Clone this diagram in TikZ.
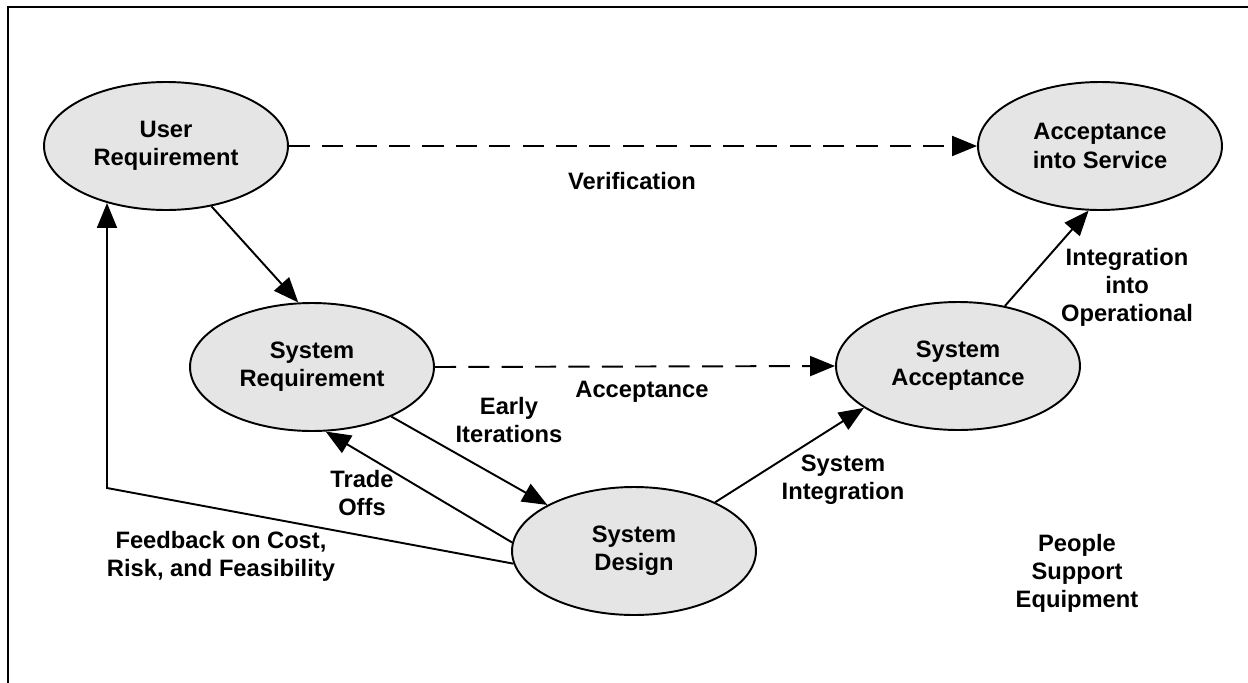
\documentclass[tikz,border=0pt]{standalone}
\usepackage{fontspec}
\setmainfont{Liberation Sans}
\usetikzlibrary{shapes.geometric, arrows.meta, positioning, calc}

\begin{document}
\begin{tikzpicture}[x=0.02cm, y=-0.02cm,
  stage/.style={draw, ellipse, line width=1.1pt, fill=black!10, minimum width=4.88cm, minimum height=2.56cm, inner sep=0pt, align=center, font=\fontsize{13.5}{16}\selectfont\bfseries},
  flow/.style={line width=1.1pt, -{Triangle[length=0.5cm, width=0.4cm]}},
  vflow/.style={flow, dash pattern=on 12pt off 7pt},
  lbl/.style={align=center, font=\fontsize{13.5}{16}\selectfont\bfseries}]
\useasboundingbox (0,0) rectangle (1248,683);
% Frame (top and left edges only)
\draw[line width=1.4pt] (8,683) -- (8,7) -- (1248,7);
% Stages
\node[stage] (ureq) at (166,146) {User\\Requirement};
\node[stage] (acc) at (1100,146) {Acceptance\\into Service};
\node[stage] (sreq) at (312,367) {System\\Requirement};
\node[stage] (sacc) at (958,366) {System\\Acceptance};
\node[stage] (sdes) at (634,551) {System\\Design};
% Verification paths (dashed)
\draw[vflow] (ureq.east) -- (acc.west);
\node[lbl] (verif) at (632,181) {Verification};
\draw[vflow] (sreq.east) -- (sacc.west);
\node[lbl] (accept) at (642,392) {Acceptance};
% Decomposition and integration
\draw[flow] (ureq.-53) -- (sreq.102);
\draw[flow] (sreq.-32) -- (sdes.152);
\node[lbl] (early) at (509,420) {Early\\Iterations};
\draw[flow] (sdes.176) -- (sreq.-78);
\node[lbl] (trade) at (362,493) {Trade\\Offs};
\draw[flow] (sdes.31) -- (sacc.204);
\node[lbl] (sysint) at (843,480) {System\\Integration};
\draw[flow] (sacc.52) -- (acc.-100);
\node[lbl] (opint) at (1127,287) {Integration\\into\\Operational};
% Feedback loop
\coordinate (fbcorner) at (107,488);
\draw[flow] (sdes.186) -- (fbcorner) -- (fbcorner |- ureq.-136.5);
\node[lbl] (feedback) at (221,556) {Feedback on Cost,\\Risk, and Feasibility};
% Resources
\node[lbl] (people) at (1077,573) {People\\Support\\Equipment};
\end{tikzpicture}
\end{document}
